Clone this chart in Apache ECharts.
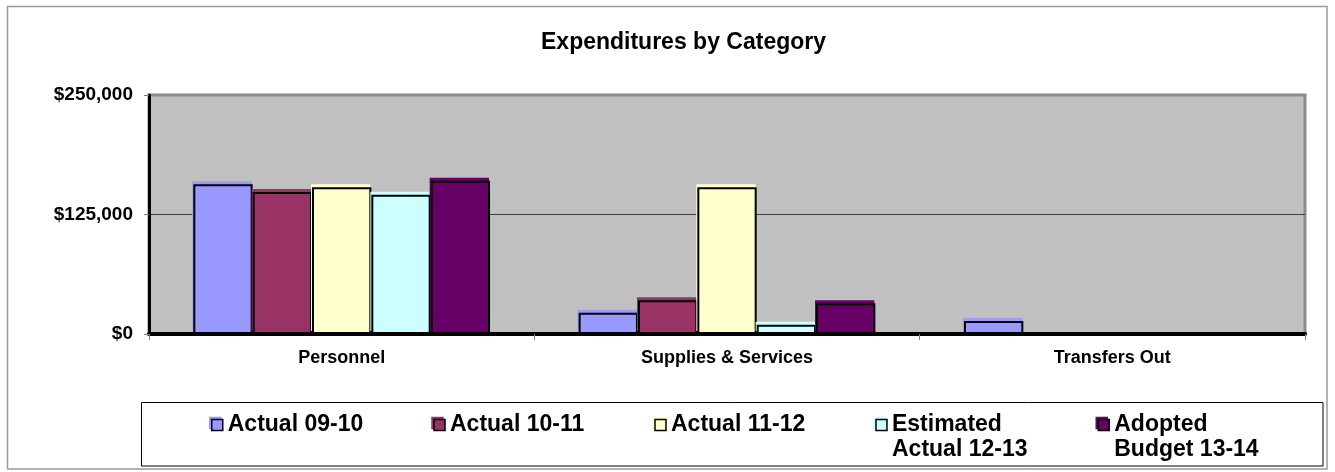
<!DOCTYPE html>
<html>
<head>
<meta charset="utf-8">
<script src="https://cdn.jsdelivr.net/npm/echarts@6/dist/echarts.min.js"></script>
<style>html,body{margin:0;padding:0;background:#fff;}#c{width:1335px;height:472px;}</style>
</head>
<body>
<div id="c"></div>
<script>
const categories = ['Personnel', 'Supplies & Services', 'Transfers Out'];
const seriesNames = ['Actual 09-10', 'Actual 10-11', 'Actual 11-12', 'Estimated Actual 12-13', 'Adopted Budget 13-14'];
const legendLabels = ['Actual 09-10\n ', 'Actual 10-11\n ', 'Actual 11-12\n ', 'Estimated\nActual 12-13', 'Adopted\nBudget 13-14'];
const actual0910 = [156600, 22300, 13600];
const actual1011 = [148500, 35300, 0];
const actual1112 = [153400, 153400, 0];
const estimated1213 = [145700, 9700, 0];
const adopted1314 = [160400, 32100, 0];
const yTicks = [0, 125000, 250000];

const seriesValues = [actual0910, actual1011, actual1112, estimated1213, adopted1314];
const colors = ['#9999FF', '#993366', '#FFFFCC', '#CCFFFF', '#660066'];
const FONT = "'Liberation Sans', Arial, sans-serif";

const chart = echarts.init(document.getElementById('c'), null, {renderer: 'canvas'});
chart.setOption({
  animation: false,
  color: colors,
  title: {
    text: 'Expenditures by Category',
    left: 541, top: 31, padding: 0,
    textStyle: {fontFamily: FONT, fontSize: 23, fontWeight: 'bold', color: '#000'}
  },
  grid: {
    left: 149, right: 30, top: 95, bottom: 138,
    show: true, backgroundColor: '#C0C0C0', borderColor: '#8c8c8c', borderWidth: 3
  },
  legend: {
    left: 211, top: 412.5, padding: 0, itemGap: 70,
    itemWidth: 11, itemHeight: 36,
    icon: 'path://M0,0H11V11H0Z M0,36',
    data: seriesNames.map((n, i) => ({
      name: n,
      itemStyle: {borderColor: '#000', borderWidth: 1.5, shadowColor: colors[i], shadowOffsetX: -2, shadowOffsetY: -2, shadowBlur: 0}
    })),
    formatter: name => legendLabels[seriesNames.indexOf(name)],
    textStyle: {fontFamily: FONT, fontSize: 23, fontWeight: 'bold', color: '#000', lineHeight: 25}
  },
  graphic: [
    {type: 'rect', shape: {x: 7.5, y: 6.5, width: 1319.5, height: 462.5}, style: {fill: 'none', stroke: '#9a9a9a', lineWidth: 1.5}, z: -10, silent: true},
    {type: 'rect', shape: {x: 141.5, y: 402.5, width: 1181.5, height: 63.5}, style: {fill: 'none', stroke: '#000', lineWidth: 1}, z: -5, silent: true}
  ],
  xAxis: {
    type: 'category',
    data: categories,
    axisLine: {lineStyle: {color: '#000', width: 4}},
    axisTick: {show: true, length: 6, lineStyle: {color: '#808080', width: 1}},
    axisLabel: {fontFamily: FONT, fontSize: 18, fontWeight: 'bold', color: '#000', margin: 15},
    splitLine: {show: false}
  },
  yAxis: {
    type: 'value',
    min: yTicks[0], max: yTicks[yTicks.length - 1], interval: yTicks[1] - yTicks[0],
    axisLine: {show: true, lineStyle: {color: '#000', width: 3}},
    axisTick: {show: true, length: 5, lineStyle: {color: '#808080', width: 1}},
    axisLabel: {
      fontFamily: FONT, fontSize: 19, fontWeight: 'bold', color: '#000', margin: 16,
      formatter: v => '$' + v.toLocaleString('en-US')
    },
    splitLine: {show: true, lineStyle: {color: ['#000', '#404040', '#8c8c8c'], width: 1}}
  },
  series: seriesNames.map((name, i) => ({
    name: name,
    type: 'bar',
    data: seriesValues[i].map(v => (v === 0 ? '-' : v)),
    barGap: '0%',
    barCategoryGap: '23%',
    itemStyle: {
      color: colors[i], borderColor: '#000', borderWidth: 2,
      shadowColor: colors[i], shadowOffsetX: -1, shadowOffsetY: -3, shadowBlur: 0
    }
  }))
});
</script>
</body>
</html>
